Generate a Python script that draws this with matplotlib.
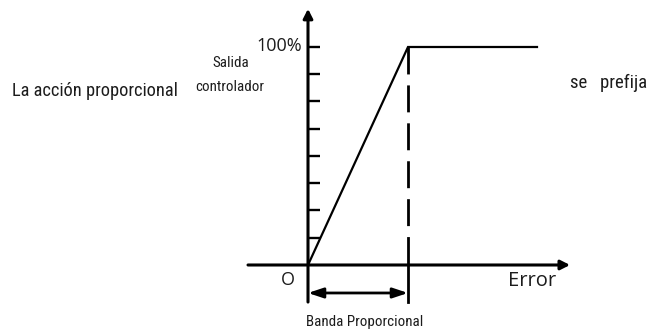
import matplotlib.pyplot as plt

# datos del diagrama: salida del controlador (%) frente al error
error = [0, 100, 229]
salida = [0, 100, 100]
banda = 100
marcas_y = [0, 12.5, 25, 37.5, 50, 62.5, 75, 87.5, 100]

plt.rcParams['font.family'] = ['Roboto Condensed', 'DejaVu Sans']
plt.rcParams['font.stretch'] = 'condensed'
plt.rcParams['lines.scale_dashes'] = False
gris = '#1c1c1c'
ancha = ['Open Sans', 'DejaVu Sans']

fig = plt.figure(figsize=(6.5, 3.31), dpi=100)
ax = fig.add_axes([0, 0, 1, 1])
ax.set_xlim(-308, 342)
ax.set_ylim(-30.28, 121.56)
ax.axis('off')

# ejes con flecha
ax.annotate('', xy=(262, 0), xytext=(-60, 0),
            arrowprops=dict(arrowstyle='-|>,head_length=0.55,head_width=0.28',
                            lw=2.2, color='k', shrinkA=0, shrinkB=0))
ax.annotate('', xy=(0, 117.5), xytext=(0, -17),
            arrowprops=dict(arrowstyle='-|>,head_length=0.55,head_width=0.28',
                            lw=2.2, color='k', shrinkA=0, shrinkB=0))

# marcas del eje y
for m in marcas_y[1:]:
    ax.plot([0, 12], [m, m], color='k', lw=1.7, solid_capstyle='butt')

# curva de salida
ax.plot(error, salida, color='k', lw=1.6, solid_joinstyle='miter')

# limite de la banda proporcional
ax.plot([banda, banda], [100, 0], color='k', lw=2.0, dashes=(19.4, 7.9))
ax.plot([banda, banda], [0, -17], color='k', lw=2.0)
ax.annotate('', xy=(banda, -12.84), xytext=(0, -12.84),
            arrowprops=dict(arrowstyle='<|-|>,head_length=0.9,head_width=0.3',
                            lw=2.0, color='k', shrinkA=0, shrinkB=0))

# textos
ax.text(-296, 77.5, 'La acción proporcional', fontsize=13.2, color=gris, va='baseline')
ax.text(-77, 90.6, 'Salida', fontsize=10.8, color=gris, ha='center', va='baseline')
ax.text(-78, 80.0, 'controlador', fontsize=10.8, color=gris, ha='center', va='baseline')
ax.text(-6, 98.3, '100%', fontsize=13, color=gris, ha='right', va='baseline',
        family=ancha, fontstretch='normal')
ax.text(-20, -9.2, 'O', fontsize=13, color=gris, ha='center', va='baseline',
        family=ancha, fontstretch='normal')
ax.text(224, -9.8, 'Error', fontsize=14.5, color=gris, ha='center', va='baseline',
        family=ancha, fontstretch='normal')
ax.text(57, -28.0, 'Banda Proporcional', fontsize=10.8, color=gris, ha='center', va='baseline')
ax.text(262, 81.2, 'se   prefija', fontsize=13.5, color=gris, va='baseline')

fig.savefig('out.png', dpi=100)
